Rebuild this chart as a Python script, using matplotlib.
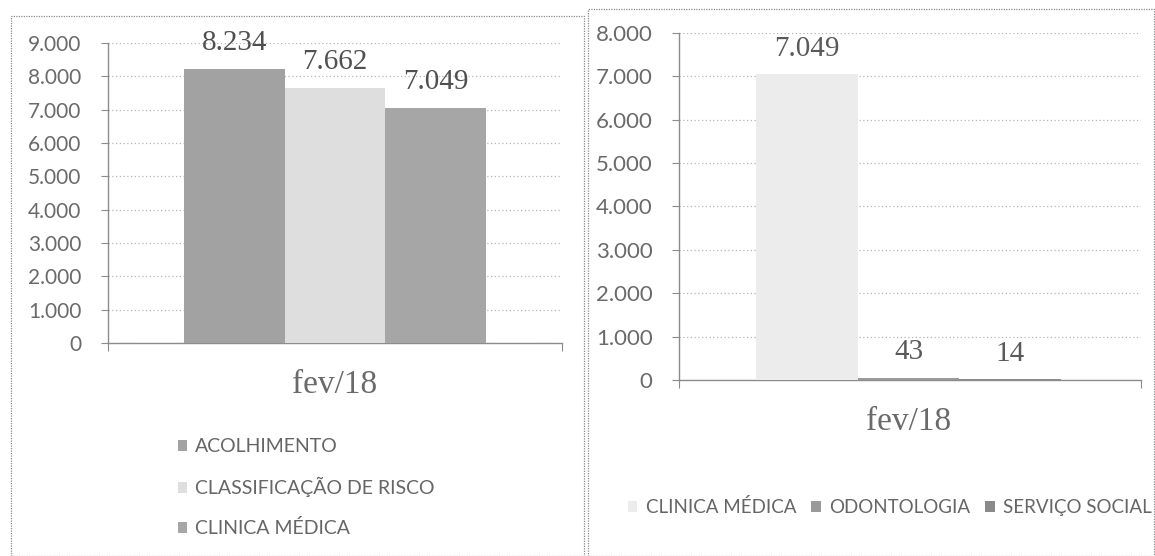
import matplotlib
matplotlib.use("Agg")
import matplotlib.pyplot as plt
from matplotlib.patches import Rectangle

# ---- data ----
left_categories = ["ACOLHIMENTO", "CLASSIFICAÇÃO DE RISCO", "CLINICA MÉDICA"]
left_values = [8234, 7662, 7049]
left_labels = ["8.234", "7.662", "7.049"]
left_yticks = [0, 1000, 2000, 3000, 4000, 5000, 6000, 7000, 8000, 9000]
left_yticklabels = ["0", "1.000", "2.000", "3.000", "4.000", "5.000", "6.000", "7.000", "8.000", "9.000"]

right_categories = ["CLINICA MÉDICA", "ODONTOLOGIA", "SERVIÇO SOCIAL"]
right_values = [7049, 43, 14]
right_labels = ["7.049", "43", "14"]
right_yticks = [0, 1000, 2000, 3000, 4000, 5000, 6000, 7000, 8000]
right_yticklabels = ["0", "1.000", "2.000", "3.000", "4.000", "5.000", "6.000", "7.000", "8.000"]

period = "fev/18"

left_colors = ["#a2a2a2", "#dedede", "#a6a6a6"]
right_colors = ["#ececec", "#9a9a9a", "#8a8a8a"]

W, H = 1155, 556
fig = plt.figure(figsize=(W / 100, H / 100), dpi=100)
fig.patch.set_facecolor("white")

SANS = ["Lato", "DejaVu Sans"]
SERIF = ["Liberation Serif", "DejaVu Serif"]
TICK_COLOR = "#6a6a6a"
GRID_COLOR = "#b4b4b4"


def px_axes(x0, y0, x1, y1):
    return fig.add_axes([x0 / W, 1 - y1 / H, (x1 - x0) / W, (y1 - y0) / H])


def style_axes(ax, yticks, yticklabels, ylim, xlim, tick_fs):
    ax.set_ylim(*ylim)
    ax.set_xlim(*xlim)
    ax.set_yticks(yticks)
    ax.set_yticklabels(yticklabels, fontfamily=SANS, fontsize=tick_fs, color=TICK_COLOR)
    ax.tick_params(axis="y", direction="out", length=5, width=0.8, color="#8c8c8c", pad=14)
    ax.set_xticks([1])
    ax.set_xticklabels([period], fontfamily=SERIF, fontsize=24, color="#6a6a6a")
    ax.tick_params(axis="x", length=0, pad=19)
    ax.set_xticks([xlim[0], xlim[1]], minor=True)
    ax.tick_params(axis="x", which="minor", direction="out", length=6, width=0.8, color="#8c8c8c")
    for s in ["top", "right"]:
        ax.spines[s].set_visible(False)
    for s in ["left", "bottom"]:
        ax.spines[s].set_color("#8c8c8c")
        ax.spines[s].set_linewidth(1.0)
    ax.yaxis.grid(True, linestyle=(0, (1, 2)), color=GRID_COLOR, linewidth=0.9)
    ax.set_axisbelow(True)
    ax.set_facecolor("none")


# ---- left panel ----
axL = px_axes(108, 43, 562, 343)
barsL = axL.bar(range(len(left_values)), left_values, width=1.0, color=left_colors,
                edgecolor="none", zorder=3)
style_axes(axL, left_yticks, left_yticklabels, (0, 9000), (-1.255, 3.255), 15)
for i, (v, lab) in enumerate(zip(left_values, left_labels)):
    axL.annotate(lab, (i, v), xytext=(0, 18.5), textcoords="offset points",
                 ha="center", va="center", fontfamily=SERIF, fontsize=21, color="#505050")
legL = fig.legend(handles=list(barsL), labels=left_categories, loc="upper left",
                  bbox_to_anchor=(160 / W, 1 - 421 / H), ncol=1, frameon=False,
                  handlelength=0.5, handleheight=0.5, handletextpad=0.4,
                  labelspacing=1.12, prop={"family": SANS, "size": 14})
for t in legL.get_texts():
    t.set_color("#666666")

# ---- right panel ----
axR = px_axes(679, 33, 1141, 380)
barsR = axR.bar(range(len(right_values)), right_values, width=1.0, color=right_colors,
                edgecolor="none", zorder=3)
style_axes(axR, right_yticks, right_yticklabels, (0, 8000), (-1.257, 3.287), 16)
for i, (v, lab) in enumerate(zip(right_values, right_labels)):
    axR.annotate(lab, (i, v), xytext=(0, 18.5), textcoords="offset points",
                 ha="center", va="center", fontfamily=SERIF, fontsize=21, color="#5a5a5a")
legR = fig.legend(handles=list(barsR), labels=right_categories, loc="center left",
                  bbox_to_anchor=(611 / W, 1 - 507 / H), ncol=3, frameon=False,
                  handlelength=0.5, handleheight=0.5, handletextpad=0.45,
                  columnspacing=0.8, prop={"family": SANS, "size": 13.5})
for t in legR.get_texts():
    t.set_color("#666666")

# ---- panel borders (dotted) ----
fig.patches.append(Rectangle((11 / W, 0), (584 - 11) / W, 1 - 16 / H, transform=fig.transFigure,
                             fill=False, edgecolor="#8a8a8a", linewidth=0.9, linestyle=(0, (1, 1))))
fig.patches.append(Rectangle((588 / W, 0), (1154 - 588) / W, 1 - 9 / H, transform=fig.transFigure,
                             fill=False, edgecolor="#8a8a8a", linewidth=0.9, linestyle=(0, (1, 1))))

fig.savefig("out.png", dpi=100, facecolor="white")
